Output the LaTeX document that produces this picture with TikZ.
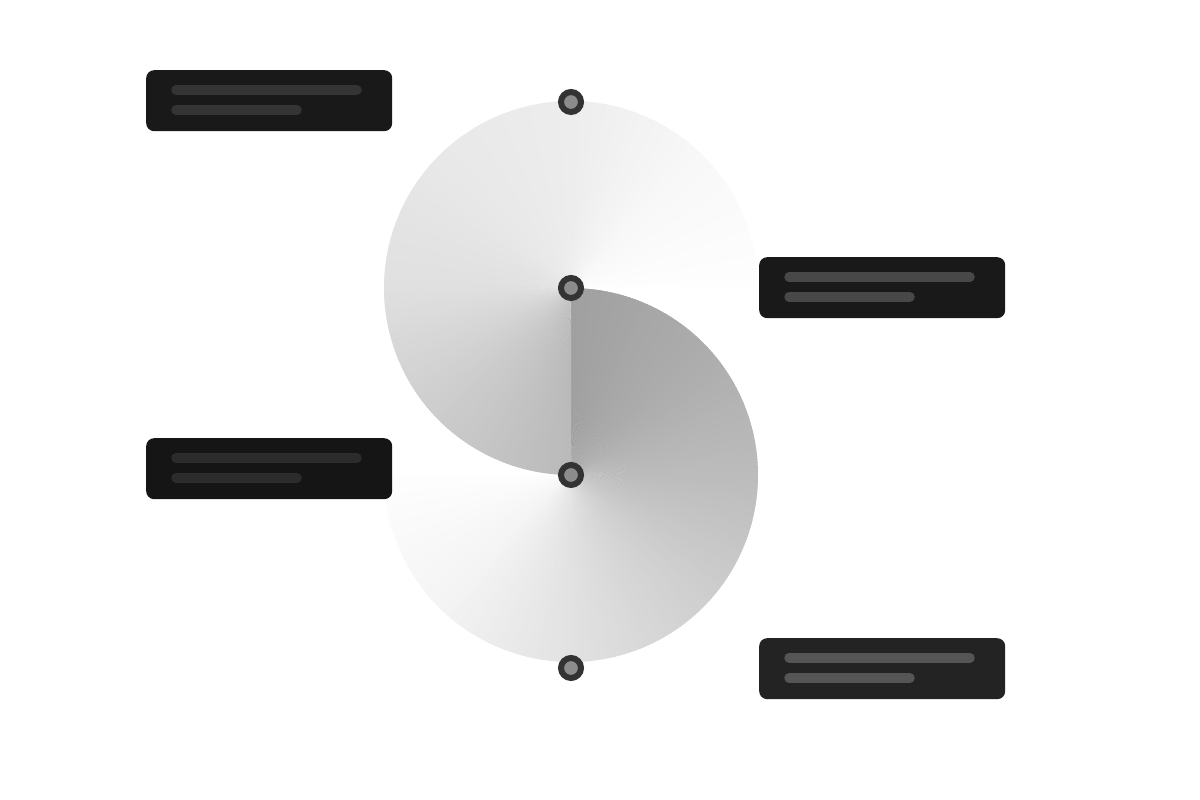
\documentclass[tikz,border=0pt]{standalone}
\usepackage{tikz}
\usetikzlibrary{positioning}
\definecolor{ringGray}{HTML}{333333}
\definecolor{hubGray}{HTML}{8C8C8C}
\definecolor{cardDark}{HTML}{191919}
\definecolor{cardSoft}{HTML}{232323}
\definecolor{barDark}{HTML}{343434}
\definecolor{barSoft}{HTML}{555555}
\tikzset{Joint/.style={%
    shape=circle,%
    draw=ringGray,%
    fill=hubGray,%
    minimum size=20pt,%
    line width=6pt,%
    inner sep=0pt,%
}}
\tikzset{Card/.style={%
    shape=rectangle,%
    fill=cardDark,%
    rounded corners=8pt,%
    minimum width=246pt,%
    minimum height=61pt,%
    inner sep=0pt,%
    anchor=north west,%
}}
\tikzset{TextBar/.style={%
    line width=9.5pt,%
    line cap=round,%
    draw=barDark,%
}}
\NewDocumentCommand{\cardBars}{s m O{}}{%
    \IfBooleanTF{#1}{%
        \def\barCol{barSoft}%
    }{%
        \def\barCol{barDark}%
    }%
    \draw[TextBar, draw=\barCol, #3] ([xshift=30pt,yshift=-20pt]#2.north west) -- ++(181,0);
    \draw[TextBar, draw=\barCol, #3] ([xshift=30pt,yshift=-40pt]#2.north west) -- ++(121,0);
}
\NewDocumentCommand{\coneFan}{m m m}{%
    \foreach \sA/\gA/\gB in {#3}{%
        \foreach \t in {0,...,44}{%
            \pgfmathsetmacro\ang{#2-\sA-\t}%
            \pgfmathsetmacro\lev{(\gA+(\gB-\gA)*\t/45)/255}%
            \definecolor{fanGray}{gray}{\lev}%
            \fill[fanGray] (#1) -- ++(\ang:187) arc[start angle=\ang, end angle=\ang-1.4, radius=187] -- cycle;
        }%
    }%
}

\begin{document}
\begin{tikzpicture}[x=1pt, y=1pt]
    \useasboundingbox (0,0) rectangle (1200,800);

    \coordinate (upperC) at (571,512);
    \coordinate (lowerC) at (571,325);

    % lower disc first, seam at 12 o'clock
    \coneFan{lowerC}{90}{0/160/172, 45/172/188, 90/188/208, 135/208/226, 180/226/244, 225/244/254}
    % upper disc, seam at 6 o'clock
    \coneFan{upperC}{270}{0/186/204, 45/204/224, 90/224/232, 135/232/237, 180/237/248, 225/248/254}

    \node[Joint] (jTop) at (571,698) {};
    \node[Joint] (jUpper) at (upperC) {};
    \node[Joint] (jLower) at (lowerC) {};
    \node[Joint] (jBottom) at (571,132) {};

    \node[Card] (noteA) at (146,730) {};
    \node[Card] (noteB) at (759,543) {};
    \node[Card, fill=cardDark!85!black] (noteC) at (146,362) {};
    \node[Card, fill=cardSoft] (noteD) at (759,162) {};

    \cardBars{noteA}
    \cardBars{noteB}[draw=barDark!90!white]
    \cardBars{noteC}[draw=barDark!85!black]
    \cardBars*{noteD}
\end{tikzpicture}
\end{document}
